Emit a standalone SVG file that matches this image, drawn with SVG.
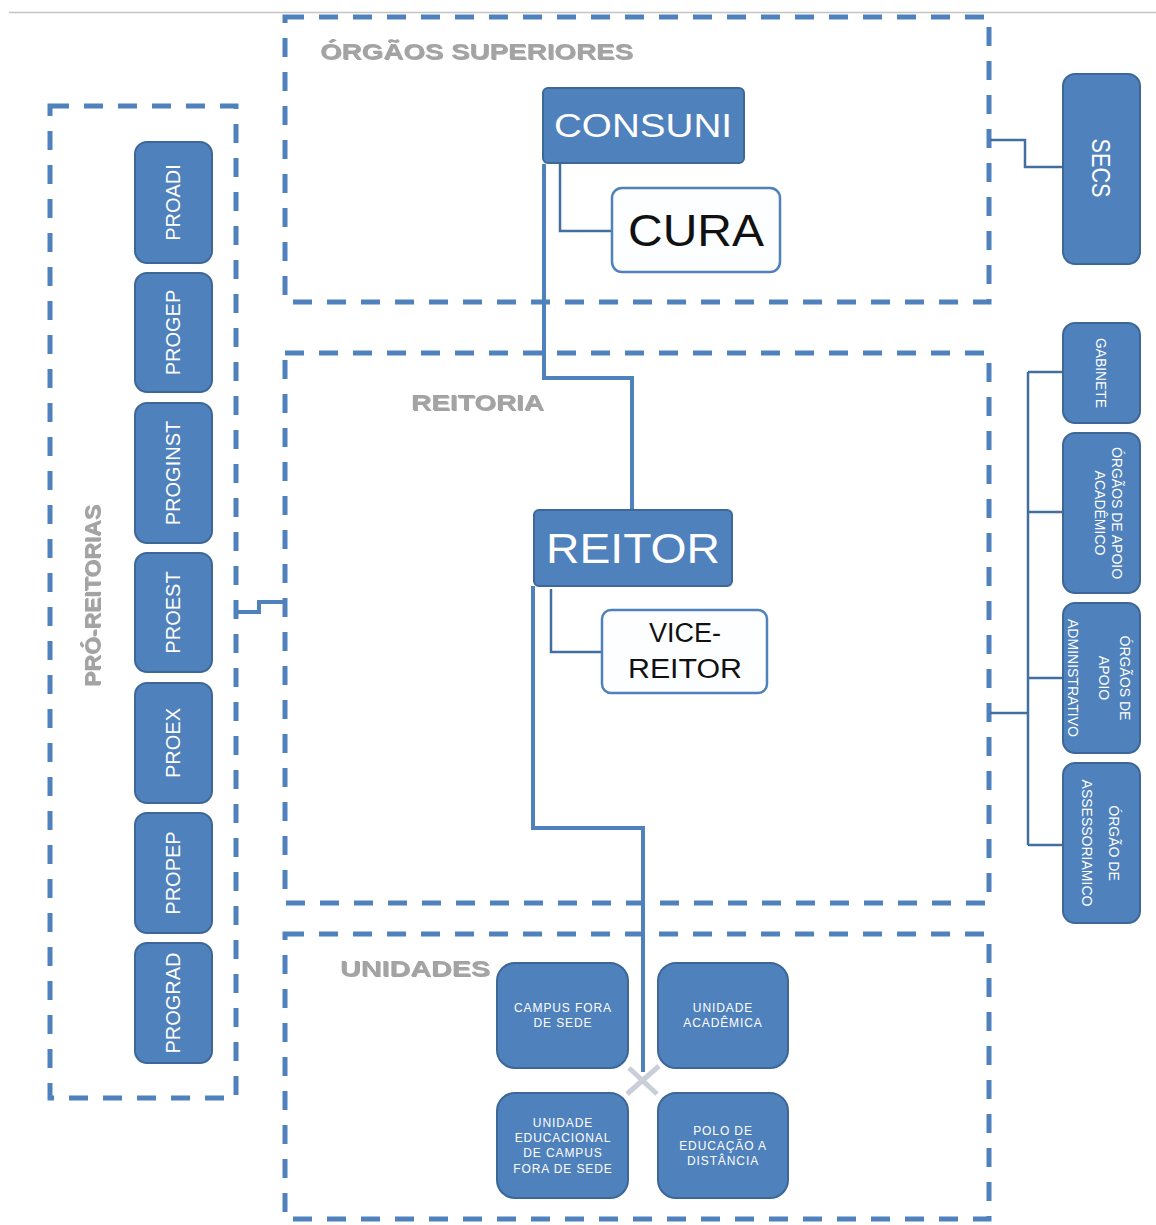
<svg xmlns="http://www.w3.org/2000/svg" width="1156" height="1225" viewBox="0 0 1156 1225">
<defs>
<filter id="emb" x="-5%" y="-20%" width="110%" height="140%">
<feDropShadow dx="1" dy="1" stdDeviation="0.6" flood-color="#555" flood-opacity="0.55"/>
</filter>
</defs>
<style>
.frame{fill:none;stroke:#4f81bd;stroke-width:5;stroke-dasharray:19 15}
.blue{fill:#4f81bd;stroke:#3c6796;stroke-width:2}
.white{fill:#fdfeff;stroke:#4f81bd;stroke-width:2.5}
.wt{fill:#ffffff;font-family:"Liberation Sans",Arial,sans-serif;text-anchor:middle}
.bt{fill:#111111;font-family:"Liberation Sans",Arial,sans-serif;text-anchor:middle}
.hdr{fill:#a3a3a3;font-family:"Liberation Sans",Arial,sans-serif;font-weight:bold;filter:url(#emb)}
.con{fill:none;stroke:#4f81bd;stroke-width:4}
.con2{fill:none;stroke:#426f9f;stroke-width:2.5}
.ut{fill:#ffffff;font-family:"Liberation Sans",Arial,sans-serif;text-anchor:middle;font-size:12px;letter-spacing:0.9px}
</style>
<rect width="1156" height="1225" fill="#ffffff"/>
<line x1="9" y1="12.5" x2="1156" y2="12.5" stroke="#c4c4c4" stroke-width="1.5"/>

<g id="frames">
<rect id="frame-orgaos" class="frame" x="285" y="17" width="704" height="285"/>
<rect id="frame-reitoria" class="frame" x="285" y="353" width="704" height="550"/>
<rect id="frame-unidades" class="frame" x="285" y="934" width="704" height="285"/>
<rect id="frame-pro" class="frame" x="50" y="106" width="186" height="992"/>
<text class="hdr" x="320" y="59" font-size="22" textLength="313" lengthAdjust="spacingAndGlyphs">ÓRGÃOS SUPERIORES</text>
<text class="hdr" x="411" y="410" font-size="22" textLength="133" lengthAdjust="spacingAndGlyphs">REITORIA</text>
<text class="hdr" x="340" y="976" font-size="22" textLength="150" lengthAdjust="spacingAndGlyphs">UNIDADES</text>
<text class="hdr" transform="translate(92,596) rotate(-90)" x="0" y="8" font-size="22" text-anchor="middle" textLength="182" lengthAdjust="spacingAndGlyphs">PRÓ-REITORIAS</text>
</g>

<g id="connectors">
<path class="con" d="M544,164 V378 H632 V509"/>
<path class="con2" d="M560,164 V231 H611"/>
<path class="con" d="M533,586 V828 H643 V1072"/>
<path class="con2" d="M551,589 V652 H602"/>
<path class="con" d="M236,612 H259 V602 H286"/>
<path class="con2" d="M990,140 H1025 V167 H1063"/>
<path class="con2" d="M990,713 H1028"/>
<path class="con2" d="M1028,372 V845"/>
<path class="con2" d="M1028,372 H1063 M1028,512 H1063 M1028,678 H1063 M1028,845 H1063"/>
<path d="M627,1094 L659,1066 M629,1068 L657,1094" stroke="#c9ced9" stroke-width="5" fill="none"/>
</g>

<g id="consuni">
<rect class="blue" x="543" y="88" width="201" height="75" rx="5"/>
<text class="wt" x="643" y="137" font-size="34" textLength="178" lengthAdjust="spacingAndGlyphs">CONSUNI</text>
</g>
<g id="cura">
<rect class="white" x="612" y="188" width="168" height="84" rx="10"/>
<text class="bt" x="696" y="246" font-size="45" textLength="136" lengthAdjust="spacingAndGlyphs">CURA</text>
</g>
<g id="reitor">
<rect class="blue" x="534" y="510" width="198" height="76" rx="5"/>
<text class="wt" x="633" y="563" font-size="42" textLength="174" lengthAdjust="spacingAndGlyphs">REITOR</text>
</g>
<g id="vice-reitor">
<rect class="white" x="602" y="610" width="165" height="83" rx="9"/>
<text class="bt" x="685" y="642" font-size="27">VICE-</text>
<text class="bt" x="685" y="678" font-size="27" textLength="114" lengthAdjust="spacingAndGlyphs">REITOR</text>
</g>

<g id="secs">
<rect class="blue" x="1063" y="74" width="77" height="190" rx="12"/>
<text class="wt" transform="translate(1101,168) rotate(90)" x="0" y="9" font-size="25" textLength="59" lengthAdjust="spacingAndGlyphs">SECS</text>
</g>
<g id="gabinete">
<rect class="blue" x="1063" y="323" width="77" height="100" rx="12"/>
<text class="wt" transform="translate(1101,373) rotate(90)" x="0" y="5" font-size="14" textLength="70" lengthAdjust="spacingAndGlyphs">GABINETE</text>
</g>
<g id="apoio-academico">
<rect class="blue" x="1063" y="433" width="77" height="160" rx="12"/>
<text class="wt" transform="translate(1101,513) rotate(90)" font-size="14"><tspan x="0" y="-11">ÓRGÃOS DE APOIO</tspan><tspan x="0" y="6">ACADÊMICO</tspan></text>
</g>
<g id="apoio-administrativo">
<rect class="blue" x="1063" y="603" width="77" height="150" rx="12"/>
<text class="wt" transform="translate(1101,678) rotate(90)" font-size="14"><tspan x="0" y="-19">ÓRGÃOS DE</tspan><tspan x="0" y="2">APOIO</tspan><tspan x="0" y="33">ADMINISTRATIVO</tspan></text>
</g>
<g id="assessoriamico">
<rect class="blue" x="1063" y="763" width="77" height="160" rx="12"/>
<text class="wt" transform="translate(1101,843) rotate(90)" font-size="14"><tspan x="0" y="-8">ÓRGÃO DE</tspan><tspan x="0" y="19">ASSESSORIAMICO</tspan></text>
</g>

<g id="proadi">
<rect class="blue" x="135" y="142" width="77" height="121" rx="12"/>
<text class="wt" transform="translate(173,202.5) rotate(-90)" x="0" y="7" font-size="20">PROADI</text>
</g>
<g id="progep">
<rect class="blue" x="135" y="273" width="77" height="119" rx="12"/>
<text class="wt" transform="translate(173,332.5) rotate(-90)" x="0" y="7" font-size="20">PROGEP</text>
</g>
<g id="proginst">
<rect class="blue" x="135" y="403" width="77" height="140" rx="12"/>
<text class="wt" transform="translate(173,473) rotate(-90)" x="0" y="7" font-size="20">PROGINST</text>
</g>
<g id="proest">
<rect class="blue" x="135" y="553" width="77" height="119" rx="12"/>
<text class="wt" transform="translate(173,612.5) rotate(-90)" x="0" y="7" font-size="20">PROEST</text>
</g>
<g id="proex">
<rect class="blue" x="135" y="683" width="77" height="120" rx="12"/>
<text class="wt" transform="translate(173,743) rotate(-90)" x="0" y="7" font-size="20">PROEX</text>
</g>
<g id="propep">
<rect class="blue" x="135" y="813" width="77" height="120" rx="12"/>
<text class="wt" transform="translate(173,873) rotate(-90)" x="0" y="7" font-size="20">PROPEP</text>
</g>
<g id="prograd">
<rect class="blue" x="135" y="943" width="77" height="120" rx="12"/>
<text class="wt" transform="translate(173,1003) rotate(-90)" x="0" y="7" font-size="20">PROGRAD</text>
</g>

<g id="campus-fora-de-sede">
<rect class="blue" x="497" y="963" width="131" height="105" rx="18" stroke="none"/>
<text class="ut"><tspan x="563" y="1012">CAMPUS FORA</tspan><tspan x="563" y="1027">DE SEDE</tspan></text>
</g>
<g id="unidade-academica">
<rect class="blue" x="658" y="963" width="130" height="105" rx="18" stroke="none"/>
<text class="ut"><tspan x="723" y="1012">UNIDADE</tspan><tspan x="723" y="1027">ACADÊMICA</tspan></text>
</g>
<g id="unidade-educacional">
<rect class="blue" x="497" y="1093" width="131" height="105" rx="18" stroke="none"/>
<text class="ut"><tspan x="563" y="1127">UNIDADE</tspan><tspan x="563" y="1142">EDUCACIONAL</tspan><tspan x="563" y="1157">DE CAMPUS</tspan><tspan x="563" y="1173">FORA DE SEDE</tspan></text>
</g>
<g id="polo-ead">
<rect class="blue" x="658" y="1093" width="130" height="105" rx="18" stroke="none"/>
<text class="ut"><tspan x="723" y="1135">POLO DE</tspan><tspan x="723" y="1150">EDUCAÇÃO A</tspan><tspan x="723" y="1165">DISTÂNCIA</tspan></text>
</g>
</svg>
